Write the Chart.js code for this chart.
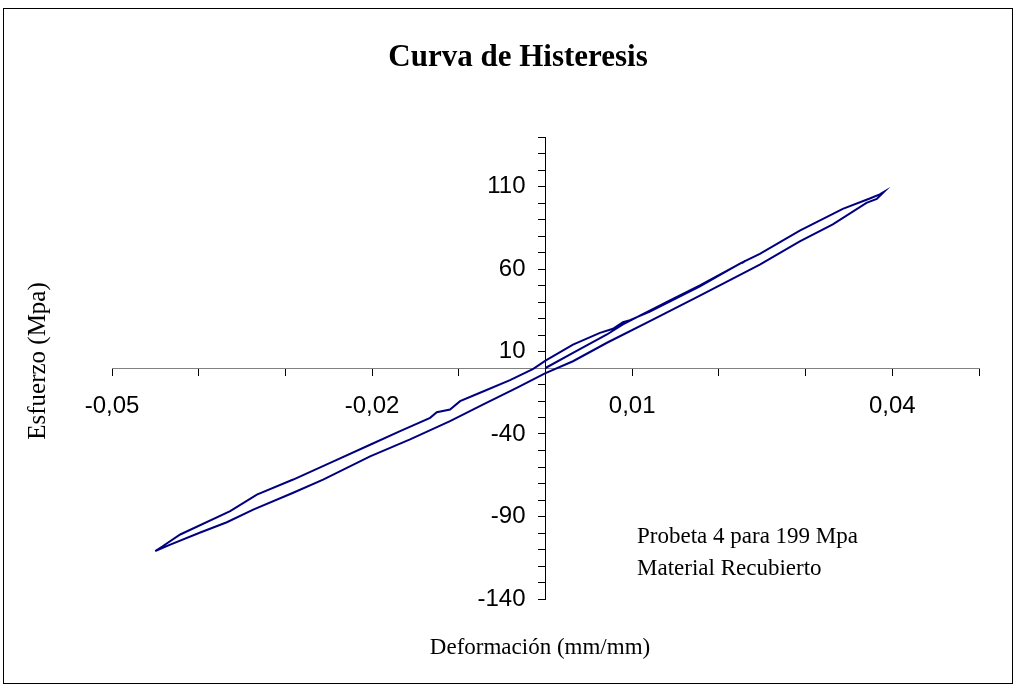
<!DOCTYPE html>
<html>
<head>
<meta charset="utf-8">
<title>Curva de Histeresis</title>
<script src="https://cdn.jsdelivr.net/npm/chart.js@4.4.1/dist/chart.umd.min.js"></script>
<style>
  body { margin: 0; background: #fff; }
</style>
</head>
<body>
<canvas id="hysteresis-chart" width="1016" height="687"></canvas>
<script>
// Deformación (mm/mm) in drawing order
const strain = [
    0, 0.00317, 0.00709, 0.00893, 0.01089, 0.01435, 0.01781, 0.02276, 0.02472, 0.02933, 0.03429, 0.03740, 0.03855, 0.03902,
    0.03821, 0.03702, 0.03314, 0.02933, 0.02472, 0.01781, 0.01204, 0.00709, 0.00317, -0.00006, -0.00332, -0.00717, -0.01101,
    -0.01562, -0.02023, -0.02565, -0.02910, -0.03371, -0.03675, -0.03982, -0.04328, -0.04501,
    -0.04420, -0.04213, -0.03637, -0.03329, -0.02910, -0.02484, -0.02023, -0.01677, -0.01331, -0.01254, -0.01101, -0.00985,
    -0.00755, -0.00409, -0.00141, 0, 0.00317, 0.00628, 0.00778, 0.00893, 0.00974, 0.01204, 0.01781, 0.02242, 0.02299, 0.02265
];

// Esfuerzo (Mpa)
const stress = [
    0, 9.2, 20.3, 26.4, 31.8, 40.9, 50.0, 64.2, 69.1, 83.3, 96.4, 102.7, 105.2, 106.7,
    102.5, 100.1, 87.0, 76.8, 62.7, 43.9, 28.4, 15.3, 4.1, -3.3, -12.0, -22.1, -32.2,
    -43.3, -53.6, -67.6, -75.6, -85.8, -93.5, -99.7, -107.0, -110.9,
    -108.2, -100.9, -86.8, -76.7, -67.6, -57.5, -46.5, -38.3, -30.2, -26.8, -25.2, -20.1,
    -15.0, -7.4, -0.5, 4.5, 14.2, 21.3, 23.8, 27.8, 29.0, 34.2, 49.4, 63.3, 64.8, 63.6
];

const xTickLabels = ['-0,05', '-0,02', '0,01', '0,04'];
const yTickLabels = ['-140', '-90', '-40', '10', '60', '110'];
const noteLines = ['Probeta 4 para 199 Mpa', 'Material Recubierto'];

const points = strain.map((x, i) => ({ x: x, y: stress[i] }));

// frame, title, axis titles and the note are drawn on top of the chart
const decorations = {
    id: 'decorations',
    afterDraw(chart) {
        const ctx = chart.ctx;
        ctx.save();
        ctx.strokeStyle = '#000';
        ctx.lineWidth = 1;
        ctx.strokeRect(3.5, 8.5, 1009, 675);

        ctx.fillStyle = '#000';
        ctx.textAlign = 'center';
        ctx.textBaseline = 'middle';
        ctx.font = 'bold 31px "Liberation Serif"';
        ctx.fillText('Curva de Histeresis', 518, 58);

        ctx.font = '23px "Liberation Serif"';
        ctx.fillText('Deformación (mm/mm)', 540, 648);

        ctx.save();
        ctx.font = '25px "Liberation Serif"';
        ctx.translate(38, 361);
        ctx.rotate(-Math.PI / 2);
        ctx.fillText('Esfuerzo (Mpa)', 0, 0);
        ctx.restore();

        ctx.textAlign = 'left';
        ctx.textBaseline = 'alphabetic';
        ctx.fillText(noteLines[0], 637, 543);
        ctx.fillText(noteLines[1], 637, 575);
        ctx.restore();
    }
};

const hysteresisChart = new Chart(document.getElementById('hysteresis-chart'), {
    type: 'scatter',
    data: {
        datasets: [{
            label: 'Probeta 4',
            data: points,
            showLine: true,
            borderColor: '#000080',
            borderWidth: 2,
            pointRadius: 0,
            tension: 0,
        }],
    },
    options: {
        responsive: false,
        animation: false,
        layout: { padding: { left: 112, right: 37, top: 137, bottom: 88 } },
        plugins: {
            legend: { display: false },
            tooltip: { enabled: false },
        },
        scales: {
            x: {
                type: 'linear',
                position: { y: 0 },
                min: -0.05,
                max: 0.05,
                ticks: {
                    stepSize: 0.01,
                    autoSkip: false,
                    maxRotation: 0,
                    padding: 17,
                    color: '#000',
                    font: { family: 'Liberation Sans', size: 24 },
                    callback: function(v) {
                        const s = (Math.round(v * 100) / 100).toFixed(2).replace('.', ',');
                        return xTickLabels.includes(s) ? s : '';
                    },
                },
                grid: { drawOnChartArea: false, drawTicks: true, tickLength: 7, tickColor: '#000' },
                border: { color: '#808080', width: 1 },
            },
            y: {
                type: 'linear',
                position: { x: 0 },
                min: -140,
                max: 140,
                ticks: {
                    stepSize: 10,
                    autoSkip: false,
                    color: '#000',
                    font: { family: 'Liberation Sans', size: 24 },
                    callback: function(v) {
                        const s = String(Math.round(v));
                        return yTickLabels.includes(s) ? s + '   ' : '';
                    },
                },
                grid: { drawOnChartArea: false, drawTicks: true, tickLength: 7, tickColor: '#000' },
                border: { color: '#000', width: 1 },
            },
        },
    },
    plugins: [decorations],
});
</script>
</body>
</html>
